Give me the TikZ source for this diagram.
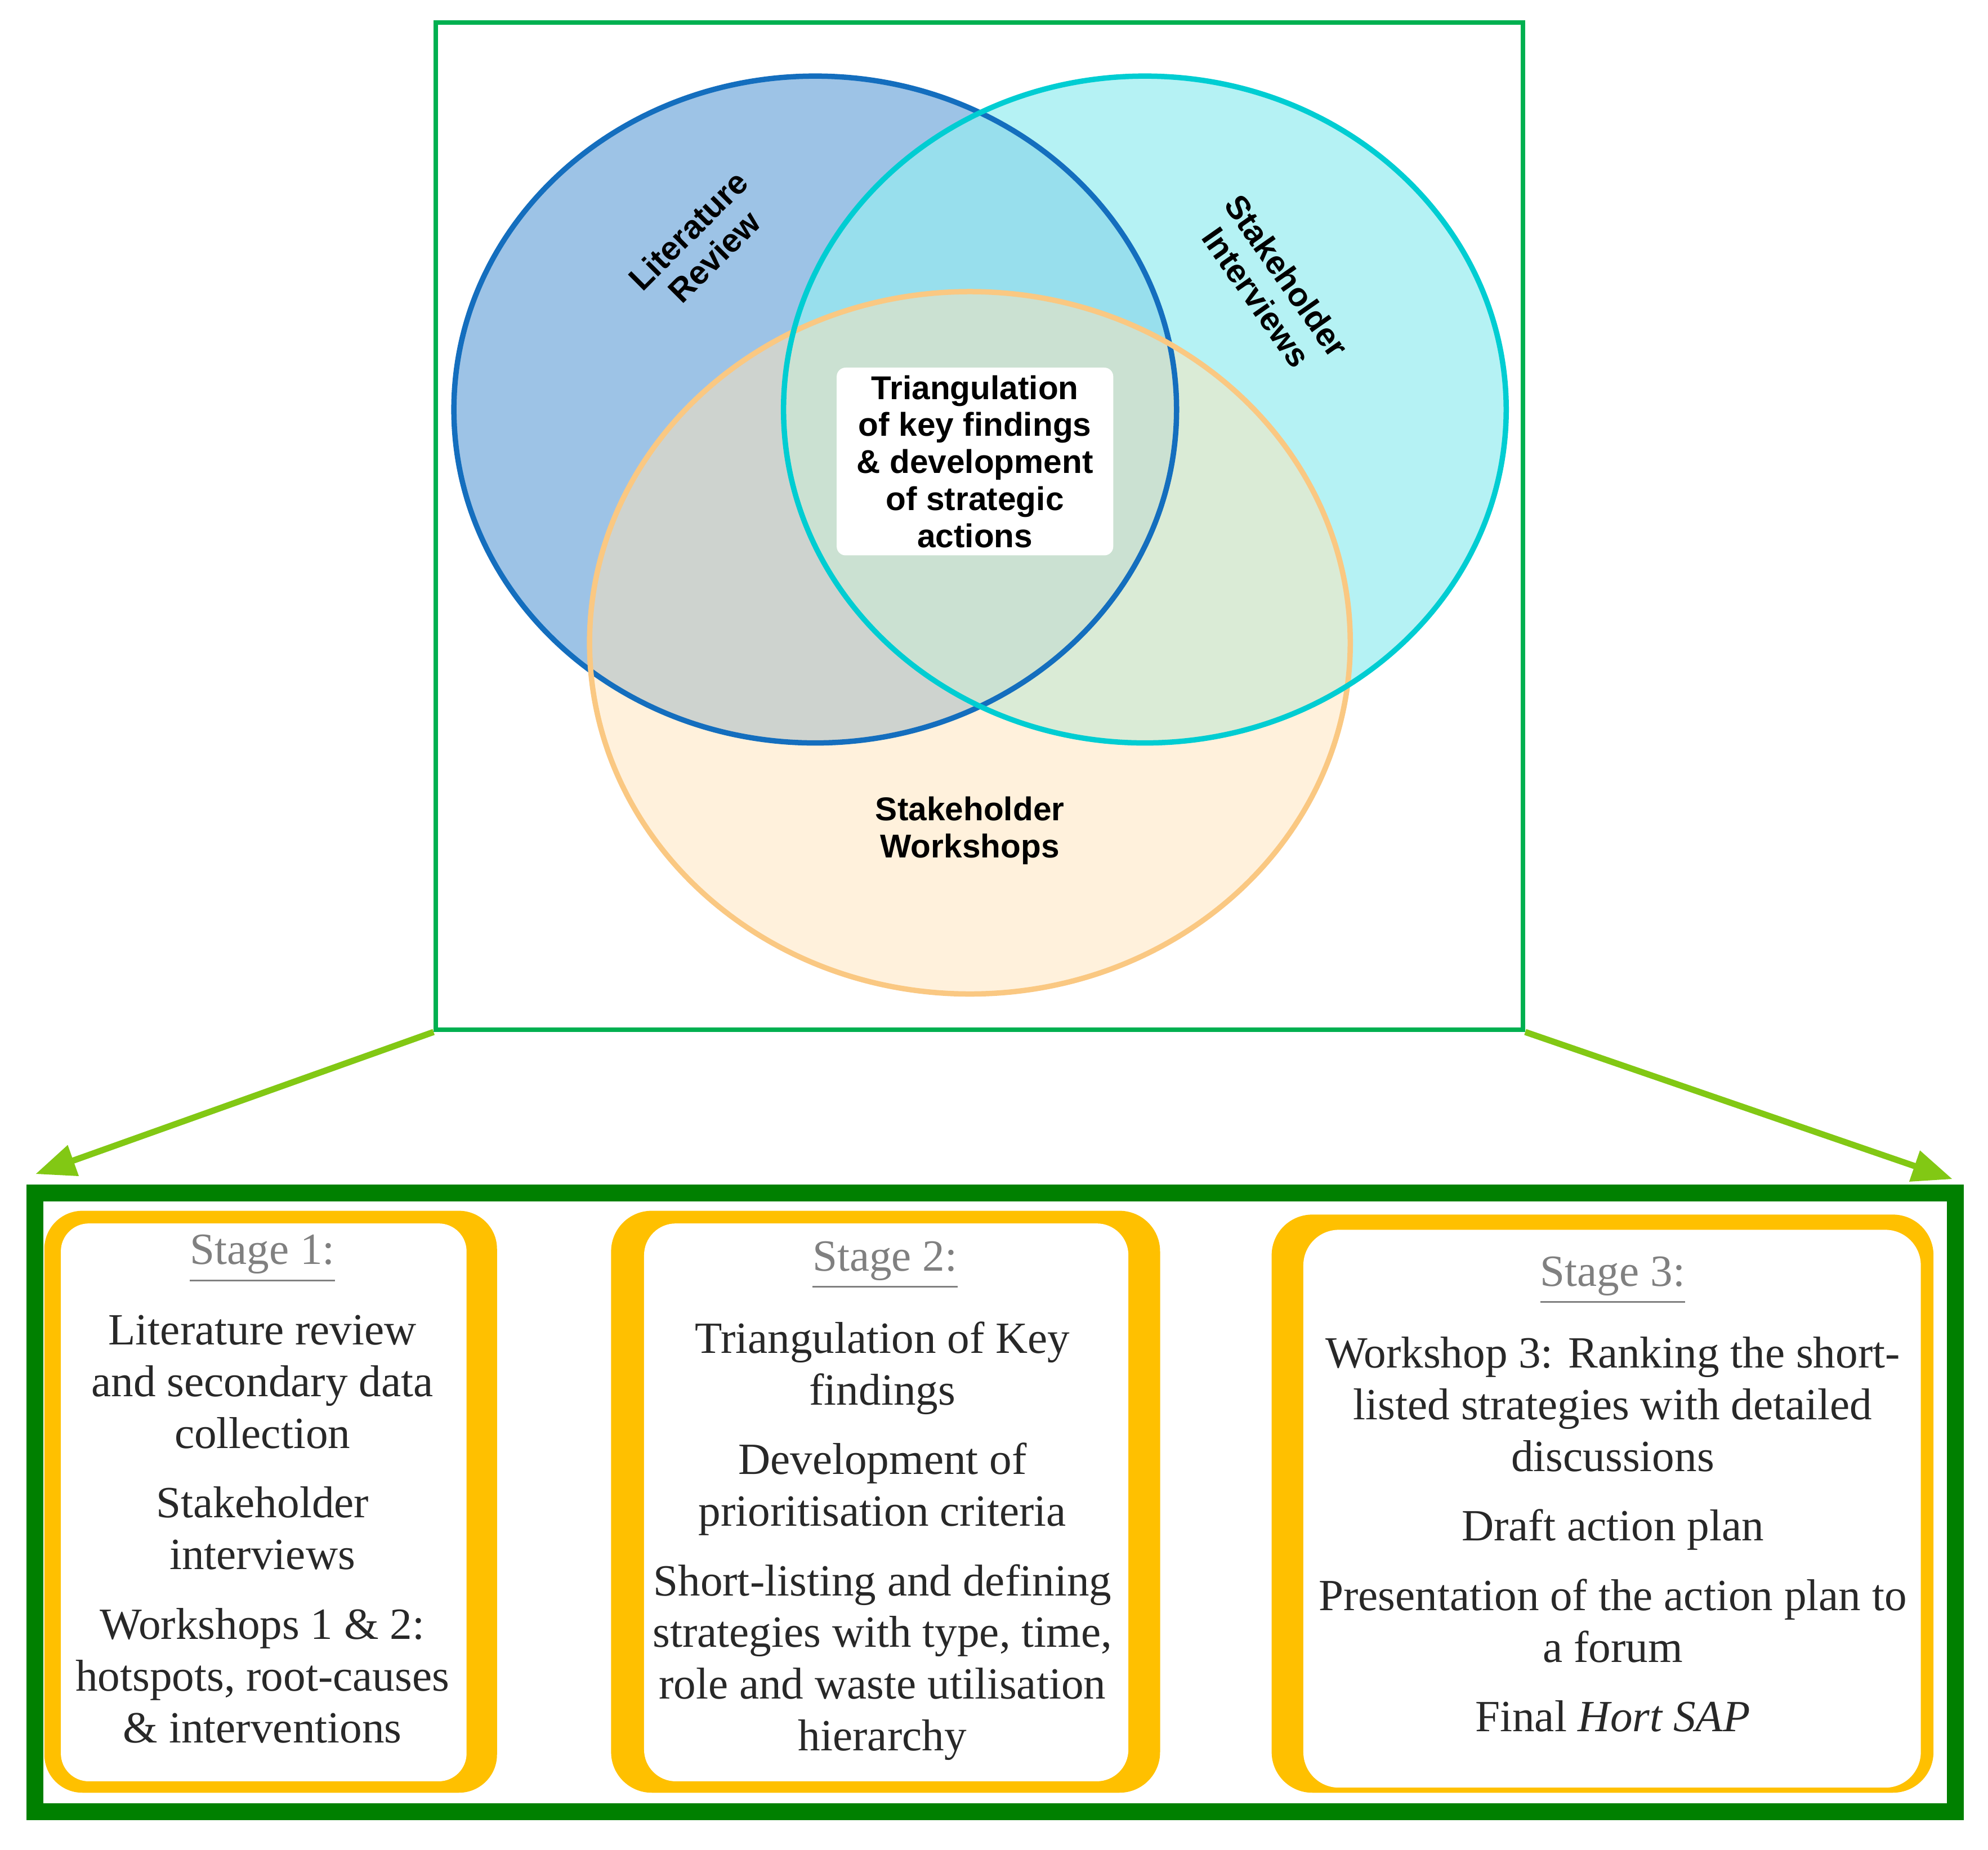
\documentclass[tikz,border=0pt]{standalone}
\usepackage{fontspec}
\setmainfont{Liberation Serif}
\newfontfamily\sanf{Liberation Sans}
\usetikzlibrary{arrows.meta}
\definecolor{frameg}{RGB}{0,176,80}
\definecolor{darkg}{RGB}{0,128,0}
\definecolor{arrg}{RGB}{130,200,20}
\definecolor{gold}{RGB}{255,192,0}
\definecolor{litf}{RGB}{157,195,230}
\definecolor{lits}{RGB}{20,110,190}
\definecolor{intf}{RGB}{150,236,240}
\definecolor{ints}{RGB}{0,205,210}
\definecolor{wsf}{RGB}{255,228,185}
\definecolor{wss}{RGB}{250,200,130}
\definecolor{txtg}{RGB}{40,40,40}
\begin{document}
\begin{tikzpicture}[x=0.01cm,y=-0.01cm,
 vlab/.style={font=\sanf\bfseries\fontsize{7.4}{8.3}\selectfont,align=center},
 stg/.style={font=\fontsize{10}{11.6}\selectfont,align=center,text=txtg},
 slab/.style={font=\fontsize{10}{11.6}\selectfont,text=gray},
 arr/.style={-{Triangle[length=9pt,width=7pt]},arrg,line width=1.4pt}]
\useasboundingbox (0,0) rectangle (1568,1459);
% Venn
\fill[litf] (643,323) ellipse [x radius=285,y radius=263];
\fill[intf,opacity=0.7] (903,323) ellipse [x radius=285,y radius=263];
\fill[wsf,opacity=0.5] (765,507) ellipse [x radius=300,y radius=277];
\draw[lits,line width=1.2pt] (643,323) ellipse [x radius=285,y radius=263];
\draw[wss,line width=1.2pt] (765,507) ellipse [x radius=300,y radius=277];
\draw[ints,line width=1.2pt] (903,323) ellipse [x radius=285,y radius=263];
\node[vlab,rotate=45] (lit) at (553,192) {Literature\\Review};
\node[vlab,rotate=-55] (int) at (1003,226) {Stakeholder\\Interviews};
\node[vlab] (ws) at (765,655) {Stakeholder\\Workshops};
\node[vlab,fill=white,rounded corners=2pt,minimum width=2.18cm,minimum height=1.48cm,inner sep=0pt] (tri) at (769,364) {Triangulation\\of key findings\\\& development\\of strategic\\actions};
\node[draw=frameg,line width=1pt,minimum width=8.57cm,minimum height=7.94cm,inner sep=0pt] (frame) at (772.5,415) {};
% arrows
\draw[arr] (frame.south west) -- (28,926);
\draw[arr] (frame.south east) -- (1540,930);
% bottom
\node[draw=darkg,line width=3.8pt,minimum width=15.14cm,minimum height=4.88cm,inner sep=0pt] (big) at (785,1185) {};
\fill[gold,rounded corners=0.3cm] (35,955) rectangle (392,1414);
\fill[white,rounded corners=0.22cm] (48,965) rectangle (368,1405);
\fill[gold,rounded corners=0.32cm] (482,955) rectangle (915,1414);
\fill[white,rounded corners=0.25cm] (508,965) rectangle (890,1405);
\fill[gold,rounded corners=0.32cm] (1003,958) rectangle (1525,1414);
\fill[white,rounded corners=0.28cm] (1028,970) rectangle (1515,1410);
\node[slab] (s1) at (207,993) {\underline{Stage 1:}};
\node[stg,anchor=north] (t1) at (207,1025) {Literature review\\and secondary data\\collection\\[4pt]Stakeholder\\interviews\\[4pt]Workshops 1 \& 2:\\hotspots, root-causes\\\& interventions};
\node[slab] (s2) at (698,998) {\underline{Stage 2:}};
\node[stg,anchor=north] (t2) at (696,1030) {Triangulation of Key\\findings\\[4pt]Development of\\prioritisation criteria\\[4pt]Short-listing and defining\\strategies with type, time,\\role and waste utilisation\\hierarchy};
\node[slab] (s3) at (1272,1010) {\underline{Stage 3:}};
\node[stg,anchor=north] (t3) at (1272,1042) {Workshop 3: Ranking the short-\\listed strategies with detailed\\discussions\\[4pt]Draft action plan\\[4pt]Presentation of the action plan to\\a forum\\[4pt]Final \textit{Hort SAP}};
\end{tikzpicture}
\end{document}
